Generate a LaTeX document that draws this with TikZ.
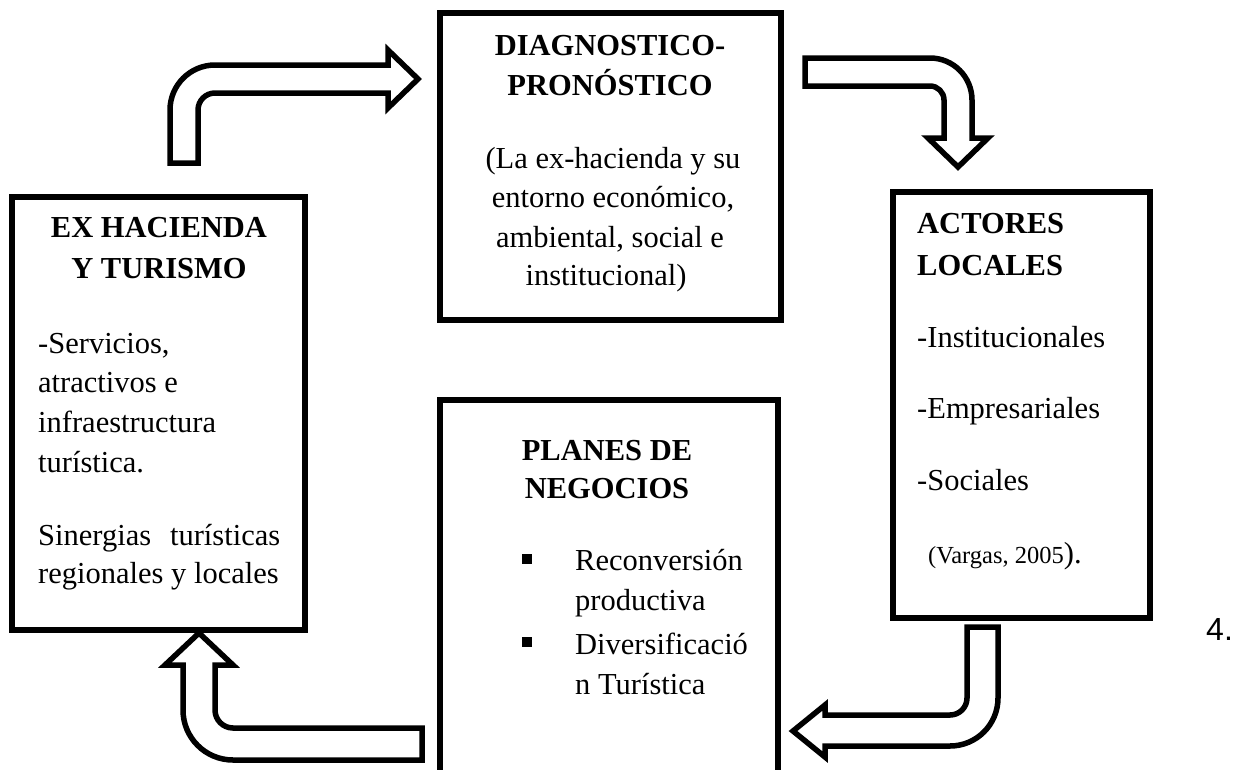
\documentclass[tikz,border=0pt]{standalone}
\usepackage{fontspec}
\setmainfont{Liberation Serif}
\newfontfamily\arialfont{Liberation Sans}
\begin{document}
\begin{tikzpicture}[x=1pt,y=-1pt,
  box/.style={draw,line width=6.5pt,inner sep=0pt},
  blockarrow/.style={draw,line width=5.5pt,line join=miter,fill=white},
  txt/.style={inner sep=0pt,font=\fontsize{30.5}{40}\selectfont},
  hd/.style={inner sep=0pt,font=\fontsize{30.5}{40}\selectfont\bfseries},
  small/.style={inner sep=0pt,font=\fontsize{24.5}{30}\selectfont},
  bulletsq/.style={fill=black,inner sep=0pt,minimum size=10pt}]
\clip (0,0) rectangle (1234,769);
\fill[white] (0,0) rectangle (1234,769);

% boxes
\node[box,minimum width=293pt,minimum height=433pt] (exh) at (158.5,413.5) {};
\node[box,minimum width=341pt,minimum height=307pt] (diag) at (610.5,166.5) {};
\node[box,minimum width=257pt,minimum height=426pt] (act) at (1021.5,405) {};
\node[box,minimum width=338pt,minimum height=400pt] (plan) at (609,600) {};

% left box text
\node[hd,anchor=base] (l1) at (159,237) {EX HACIENDA};
\node[hd,anchor=base] (l2) at (159,278) {Y TURISMO};
\node[txt,anchor=base west] (l3) at (38,353) {-Servicios,};
\node[txt,anchor=base west] (l4) at (38,392) {atractivos e};
\node[txt,anchor=base west] (l5) at (38,432) {infraestructura};
\node[txt,anchor=base west] (l6) at (38,472) {turística.};
\node[txt,anchor=base west] (l7) at (38,545) {\hbox to 242pt{Sinergias\hfill turísticas}};
\node[txt,anchor=base west] (l8) at (38,583) {regionales y locales};

% top box text
\node[hd,anchor=base] (d1) at (610,55) {DIAGNOSTICO-};
\node[hd,anchor=base] (d2) at (610,95) {PRONÓSTICO};
\node[txt,anchor=base] (d3) at (613,168) {(La ex-hacienda y su};
\node[txt,anchor=base] (d4) at (613,207) {entorno económico,};
\node[txt,anchor=base] (d5) at (610,247) {ambiental, social e};
\node[txt,anchor=base] (d6) at (606,285) {institucional)};

% right box text
\node[hd,anchor=base west] (a1) at (917,233) {ACTORES};
\node[hd,anchor=base west] (a2) at (917,275) {LOCALES};
\node[txt,anchor=base west] (a3) at (917,347) {-Institucionales};
\node[txt,anchor=base west] (a4) at (917,418) {-Empresariales};
\node[txt,anchor=base west] (a5) at (917,490) {-Sociales};
\node[small,anchor=base west] (a6) at (928,563) {(Vargas, 2005\fontsize{30.5}{40}\selectfont).};

% bottom box text
\node[hd,anchor=base] (p1) at (607,460) {PLANES DE};
\node[hd,anchor=base] (p2) at (607,498) {NEGOCIOS};
\node[bulletsq] (b1) at (527,559) {};
\node[txt,anchor=base west] (p3) at (575,570) {Reconversión};
\node[txt,anchor=base west] (p4) at (575,610) {productiva};
\node[bulletsq] (b2) at (527,642) {};
\node[txt,anchor=base west] (p5) at (575,654) {Diversificació};
\node[txt,anchor=base west] (p6) at (575,694) {n Turística};

% figure number
\node[inner sep=0pt,anchor=base west,font=\arialfont\fontsize{32}{36}\selectfont] (num) at (1206,640) {4.};

% block arrows
% top-left: up then right
\draw[blockarrow] (198,163) -- (170,163) -- (170,110)
  arc[start angle=180,end angle=270,radius=45] -- (388,65) -- (388,50)
  -- (418,79) -- (388,108) -- (388,93) -- (215,93)
  arc[start angle=270,end angle=180,radius=17] -- cycle;
% top-right: right then down
\draw[blockarrow] (805,58) -- (930,58)
  arc[start angle=270,end angle=360,radius=42] -- (972,138) -- (988,138)
  -- (958,167) -- (928,138) -- (944,138) -- (944,100)
  arc[start angle=0,end angle=-90,radius=14] -- (805,86) -- cycle;
% bottom-right: down then left
\draw[blockarrow] (967,627) -- (998,627) -- (998,698)
  arc[start angle=0,end angle=90,radius=48] -- (825,746) -- (825,757)
  -- (793,731) -- (825,705) -- (825,715) -- (950,715)
  arc[start angle=90,end angle=0,radius=17] -- cycle;
% bottom-left: left then up
\draw[blockarrow] (422,728) -- (233,728)
  arc[start angle=90,end angle=180,radius=18] -- (215,665) -- (233,665)
  -- (199,633) -- (165,665) -- (183,665) -- (183,710)
  arc[start angle=180,end angle=90,radius=50] -- (422,760) -- cycle;
\end{tikzpicture}
\end{document}
